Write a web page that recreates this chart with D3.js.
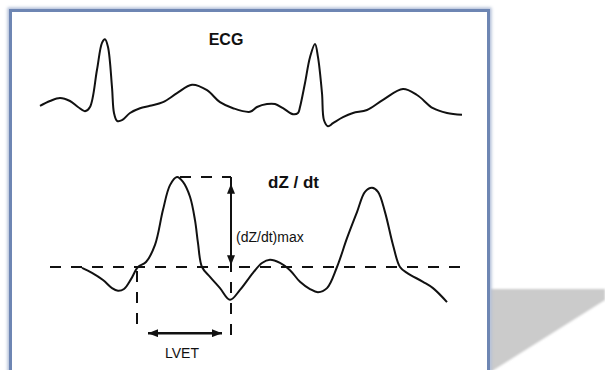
<!DOCTYPE html>
<html>
<head>
<meta charset="utf-8">
<script src="https://cdn.jsdelivr.net/npm/d3@7"></script>
<style>
  body { margin: 0; background: #fff; }
  svg { display: block; }
  text { font-family: "Liberation Sans", Arial, sans-serif; fill: #111; }
</style>
</head>
<body>
<svg id="chart" width="605" height="370"></svg>
<script>
// ECG trace, time in ms, amplitude in mV
var ecgTime = [0, 40, 80, 120, 152, 180, 200, 228, 248, 260, 272, 288, 296, 308, 328, 360, 400, 440, 492, 548, 608, 668, 720, 772, 840, 868, 908, 940, 972, 1012, 1032, 1040, 1060, 1080, 1100, 1112, 1128, 1136, 1152, 1172, 1212, 1252, 1308, 1372, 1452, 1508, 1572, 1628, 1688];
var ecgValue = [0.02, 0.10, 0.15, 0.10, 0.00, -0.07, 0.00, 0.62, 1.07, 1.13, 1.00, 0.33, -0.10, -0.23, -0.22, -0.10, -0.02, 0.02, 0.08, 0.23, 0.37, 0.28, 0.08, -0.02, -0.08, 0.00, 0.05, 0.05, -0.02, -0.12, -0.10, 0.00, 0.40, 0.83, 1.05, 0.83, 0.23, -0.22, -0.32, -0.27, -0.17, -0.10, -0.05, 0.12, 0.30, 0.20, -0.02, -0.10, -0.13];

// impedance derivative dZ/dt, time in ms, Ohm/s
var dzTime = [168, 208, 252, 288, 312, 336, 364, 392, 424, 460, 492, 520, 548, 572, 600, 620, 632, 648, 680, 720, 760, 800, 852, 888, 920, 960, 1000, 1040, 1080, 1112, 1148, 1188, 1228, 1268, 1300, 1328, 1352, 1380, 1412, 1440, 1468, 1532, 1572, 1628];
var dzValue = [-0.02, -0.13, -0.29, -0.47, -0.53, -0.49, -0.27, 0.00, 0.11, 0.49, 1.27, 1.82, 2.00, 1.89, 1.56, 1.04, 0.53, 0.00, -0.22, -0.47, -0.73, -0.51, -0.13, 0.09, 0.16, 0.09, -0.07, -0.33, -0.49, -0.56, -0.47, 0.00, 0.64, 1.22, 1.67, 1.76, 1.67, 1.22, 0.49, 0.00, -0.13, -0.33, -0.47, -0.78];

// annotation events (ms) and levels (Ohm/s)
var baselineSpan = [40, 1680];
var bPoint = 388;        // opening of aortic valve
var xPoint = 764;        // closure of aortic valve
var dzMax = 2.00;
var dzMaxTime = 548;
var lvetArrow = [432, 728];
var lvetLevel = -1.47;
var maxArrow = [1.85, 0.04];
var bLineBottom = -1.36;
var xLineBottom = -1.56;

var svg = d3.select("#chart");
var defs = svg.append("defs");

defs.append("filter").attr("id", "glow")
    .attr("x", "-5%").attr("y", "-5%").attr("width", "110%").attr("height", "110%")
    .append("feGaussianBlur").attr("stdDeviation", 1.6);
defs.append("filter").attr("id", "soft")
    .append("feGaussianBlur").attr("stdDeviation", 1.2);

["arrowEnd", "arrowStart"].forEach(function (id, i) {
    defs.append("marker")
        .attr("id", id)
        .attr("viewBox", "0 0 10 8")
        .attr("refX", i === 0 ? 10 : 0).attr("refY", 4)
        .attr("markerWidth", 10).attr("markerHeight", 8)
        .attr("markerUnits", "userSpaceOnUse")
        .attr("orient", "auto")
        .append("path")
        .attr("d", i === 0 ? "M0,0L10,4L0,8Z" : "M10,0L0,4L10,8Z")
        .attr("fill", "#111");
});

// grey floor shadow at the right
svg.append("path")
    .attr("d", "M490,289L605,289L605,300L492,371L490,371Z")
    .attr("fill", "#cbcbcb")
    .attr("filter", "url(#soft)");

// panel frame
svg.append("rect")
    .attr("x", 10.5).attr("y", 10.5).attr("width", 478).attr("height", 380)
    .attr("fill", "#fff")
    .attr("stroke", "#aebbd6").attr("stroke-width", 6)
    .attr("filter", "url(#glow)");
svg.append("rect")
    .attr("x", 10.5).attr("y", 10.5).attr("width", 478).attr("height", 380)
    .attr("fill", "#fff")
    .attr("stroke", "#6e86b3").attr("stroke-width", 3);

var x = d3.scaleLinear().domain([0, 1688]).range([40, 462]);
var yEcg = d3.scaleLinear().domain([-0.5, 1.5]).range([137, 17]);
var yDz = d3.scaleLinear().domain([-1, 2.2]).range([312, 168]);

var ecgLine = d3.line()
    .x(function (d, i) { return x(ecgTime[i]); })
    .y(function (d) { return yEcg(d); })
    .curve(d3.curveCatmullRom.alpha(0.5));

var dzLine = d3.line()
    .x(function (d, i) { return x(dzTime[i]); })
    .y(function (d) { return yDz(d); })
    .curve(d3.curveCatmullRom.alpha(0.5));

svg.append("path")
    .attr("d", ecgLine(ecgValue))
    .attr("fill", "none").attr("stroke", "#111").attr("stroke-width", 2)
    .attr("stroke-linejoin", "round");

svg.append("path")
    .attr("d", dzLine(dzValue))
    .attr("fill", "none").attr("stroke", "#111").attr("stroke-width", 2)
    .attr("stroke-linejoin", "round");

// dashed reference lines
var dashed = svg.append("g")
    .attr("stroke", "#111").attr("stroke-width", 2)
    .attr("stroke-dasharray", "11,10").attr("fill", "none");

dashed.append("line")
    .attr("x1", x(baselineSpan[0])).attr("x2", x(baselineSpan[1]))
    .attr("y1", yDz(0)).attr("y2", yDz(0));
dashed.append("line")
    .attr("x1", x(dzMaxTime) + 3).attr("x2", x(xPoint))
    .attr("y1", yDz(dzMax)).attr("y2", yDz(dzMax));
dashed.append("line")
    .attr("x1", x(bPoint)).attr("x2", x(bPoint))
    .attr("y1", yDz(0) + 4).attr("y2", yDz(bLineBottom));
dashed.append("line")
    .attr("x1", x(xPoint)).attr("x2", x(xPoint))
    .attr("y1", yDz(dzMax)).attr("y2", yDz(xLineBottom));

// arrows
svg.append("line")
    .attr("x1", x(xPoint)).attr("x2", x(xPoint))
    .attr("y1", yDz(maxArrow[0])).attr("y2", yDz(maxArrow[1]))
    .attr("stroke", "#111").attr("stroke-width", 2)
    .attr("marker-start", "url(#arrowStart)")
    .attr("marker-end", "url(#arrowEnd)");

svg.append("line")
    .attr("x1", x(lvetArrow[0])).attr("x2", x(lvetArrow[1]))
    .attr("y1", yDz(lvetLevel)).attr("y2", yDz(lvetLevel))
    .attr("stroke", "#111").attr("stroke-width", 2.5)
    .attr("marker-start", "url(#arrowStart)")
    .attr("marker-end", "url(#arrowEnd)");

// labels
svg.append("text").attr("x", 226).attr("y", 45)
    .attr("text-anchor", "middle")
    .style("font-size", "16px").style("font-weight", "bold")
    .text("ECG");

svg.append("text").attr("x", 268).attr("y", 188)
    .style("font-size", "17px").style("font-weight", "bold")
    .text("dZ / dt");

svg.append("text").attr("x", 236).attr("y", 242)
    .style("font-size", "14px")
    .text("(dZ/dt)max");

svg.append("text").attr("x", 182).attr("y", 358)
    .attr("text-anchor", "middle")
    .style("font-size", "14px")
    .text("LVET");
</script>
</body>
</html>
